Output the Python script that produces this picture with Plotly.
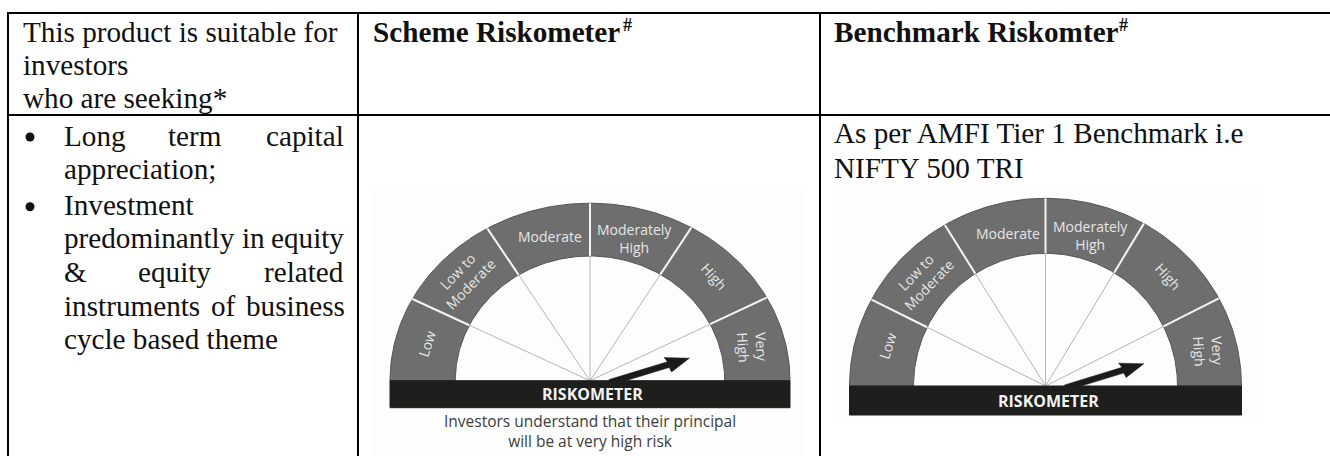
import numpy as np
import plotly.graph_objects as go

# ---- table content ----
header_cells = [
    ("This product is suitable for", 23, 40.7, False),
    ("investors", 23, 74.2, False),
    ("who are seeking*", 23, 107.5, False),
    ("Scheme Riskometer", 372.5, 40.7, True),
    ("Benchmark Riskomter", 834, 40.7, True),
]
sup_marks = [("#", 627, 24.5), ("#", 1123.5, 24.5)]
# words of the justified cell: (word, left edge, baseline)
body_words = [
    ("Long", 63.5, 145), ("term", 168, 145), ("capital", 265.5, 145),
    ("appreciation;", 63.5, 178.5),
    ("Investment", 63.5, 214),
    ("predominantly", 63.5, 247.5), ("in", 241.5, 247.5), ("equity", 270.5, 247.5),
    ("&", 63.5, 281), ("equity", 138, 281), ("related", 264, 281),
    ("instruments", 63.5, 315), ("of", 210.5, 315), ("business", 245.5, 315),
    ("cycle based theme", 63.5, 348.5),
    ("As per AMFI Tier 1 Benchmark i.e", 834, 141.7),
    ("NIFTY 500 TRI", 834, 176.7),
]
bullet_x = [30, 30]
bullet_y = [137, 206.7]
grid_h = [13, 115]
grid_v = [8, 358, 820]

segment_labels = ["Low", "Low to<br>Moderate", "Moderate", "Moderately<br>High", "High", "Very<br>High"]
label_angles = [-72, -46, 0, 0, 48, 87]

g1 = dict(cx=590, cy=380.7, a=200, b=177.5, ia=134.7, ib=124.7, bar=27,
          div=[155.3, 124, 90, 56.5, 25.2],
          lx=[426.7, 464, 550, 634, 714, 753], ly=[343.3, 277.5, 236.7, 238.5, 276.5, 347],
          bg=(372, 805, 187, 456), ax=25.7, al=77, ang=17, rx=592)
g2 = dict(cx=1045.5, cy=386, a=196, b=187.7, ia=132, ib=132.7, bar=29,
          div=[153.6, 122, 90, 58.8, 26.8],
          lx=[887, 922, 1007.5, 1090, 1168, 1209], ly=[346, 278, 233, 235.5, 276.5, 351],
          bg=(833, 1257, 183.5, 421.7), ax=25.7, al=76, ang=17, rx=1048.3)

SERIF = "Liberation Serif"
SANS = "Open Sans"
TXT = "#111111"
BAND = "#6e6e6e"

fig = go.Figure()
anns = []


def add_text(text, x, y, size, color, family, xanchor="center", angle=0, bold=False):
    anns.append(dict(text=text, x=x, y=y, xref="x", yref="y", showarrow=False, xanchor=xanchor,
                     yanchor="middle", textangle=angle, borderpad=0, align="center",
                     font=dict(family=family, size=size, color=color, weight=700 if bold else 400)))


def ray(g, deg, a, b):
    t = np.radians(deg)
    r = 1 / np.sqrt((np.cos(t) / a) ** 2 + (np.sin(t) / b) ** 2)
    return g["cx"] + r * np.cos(t), g["cy"] - r * np.sin(t)


def gauge(g):
    x0, x1, y0, y1 = g["bg"]
    fig.add_shape(type="rect", x0=x0, x1=x1, y0=y0, y1=y1, fillcolor="#fdfdfd", line_width=0, layer="below")
    t = np.radians(np.linspace(0, 180, 181))
    ox = g["cx"] + g["a"] * np.cos(t); oy = g["cy"] - g["b"] * np.sin(t)
    ix = g["cx"] + g["ia"] * np.cos(t[::-1]); iy = g["cy"] - g["ib"] * np.sin(t[::-1])
    fig.add_trace(go.Scatter(x=np.r_[ox, ix, ox[0]], y=np.r_[oy, iy, oy[0]], mode="lines", fill="toself",
                             fillcolor=BAND, line=dict(color="#555555", width=1), hoverinfo="skip"))
    for d in g["div"]:
        ix_, iy_ = ray(g, d, g["ia"], g["ib"])
        ox_, oy_ = ray(g, d, g["a"], g["b"])
        fig.add_trace(go.Scatter(x=[g["cx"], ix_], y=[g["cy"], iy_], mode="lines",
                                 line=dict(color="#b5b5b5", width=1), hoverinfo="skip"))
        fig.add_trace(go.Scatter(x=[ix_, ox_], y=[iy_, oy_], mode="lines",
                                 line=dict(color="#f4f4f4", width=2), hoverinfo="skip"))
    # needle
    th = np.radians(g["ang"])
    u = np.array([np.cos(th), -np.sin(th)]); v = np.array([np.sin(th), np.cos(th)])
    o = np.array([g["cx"] + g["ax"], g["cy"]]) - u * 6
    L = g["al"] + 6
    pts = [(0, -3), (L - 22, -3), (L - 24, -8), (L, 0), (L - 21, 8), (L - 22, 3), (0, 3)]
    p = [o + u * s + v * w for s, w in pts]
    fig.add_trace(go.Scatter(x=[q[0] for q in p] + [p[0][0]], y=[q[1] for q in p] + [p[0][1]], mode="lines",
                             fill="toself", fillcolor="#1a1a1a", line=dict(color="#1a1a1a", width=0.5),
                             hoverinfo="skip"))
    # base bar
    fig.add_trace(go.Scatter(x=[g["cx"] - g["a"], g["cx"] + g["a"], g["cx"] + g["a"], g["cx"] - g["a"], g["cx"] - g["a"]],
                             y=[g["cy"], g["cy"], g["cy"] + g["bar"], g["cy"] + g["bar"], g["cy"]],
                             mode="lines", fill="toself", fillcolor="#1e1e1c", line=dict(color="#1e1e1c", width=1),
                             hoverinfo="skip"))
    add_text("RISKOMETER", g["rx"], g["cy"] + g["bar"] / 2, 16, "#f2f2f2", SANS, bold=True)
    for lab, x, y, ang in zip(segment_labels, g["lx"], g["ly"], label_angles):
        add_text(lab, x, y, 14, "#e6e6e6", SANS, angle=ang)


gauge(g1)
gauge(g2)
add_text("Investors understand that their principal<br>will be at very high risk", 590, 430.5, 15.5, "#3c3c3c", SANS)

# table rules
for y in grid_h:
    fig.add_shape(type="line", x0=grid_v[0] - 1, x1=1330, y0=y, y1=y, line=dict(color="black", width=2))
for x in grid_v:
    fig.add_shape(type="line", x0=x, x1=x, y0=grid_h[0], y1=456, line=dict(color="black", width=2))

OFF = 0.338
FS = 29.2
DX, DY = -1, 0.7
for txt, x, base, bold in header_cells:
    add_text(txt, x + DX, base - OFF * FS + DY, FS, TXT, SERIF, xanchor="left", bold=bold)
for txt, x, base in body_words:
    add_text(txt, x + DX, base - OFF * FS + DY, FS, TXT, SERIF, xanchor="left")
for txt, x, y in sup_marks:
    add_text(txt, x, y, 18, TXT, SERIF, bold=True)
fig.add_trace(go.Scatter(x=bullet_x, y=bullet_y, mode="markers", marker=dict(color=TXT, size=9), hoverinfo="skip"))

fig.update_layout(width=1330, height=456, margin=dict(l=0, r=0, t=0, b=0), showlegend=False,
                  paper_bgcolor="white", plot_bgcolor="white", annotations=anns,
                  xaxis=dict(range=[0, 1330], visible=False, fixedrange=True),
                  yaxis=dict(range=[456, 0], visible=False, fixedrange=True))
fig.write_html("out.html", config=dict(displayModeBar=False),
               post_script="document.body.style.margin='0';document.body.style.overflow='hidden';")
